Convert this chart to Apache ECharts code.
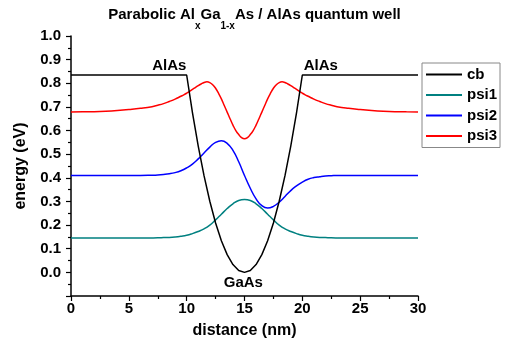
<!DOCTYPE html>
<html>
<head>
<meta charset="utf-8">
<script src="https://cdn.jsdelivr.net/npm/echarts@6/dist/echarts.min.js"></script>
<style>html,body{margin:0;padding:0;background:#fff;}#c{width:509px;height:348px;}</style>
</head>
<body>
<div id="c"></div>
<script>
var distance = [0,1,2,3,4,5,6,7,7.5,8,8.5,9,9.5,10,10.5,11,11.5,12,12.5,13,13.5,14,14.5,15,15.5,16,16.5,17,17.5,18,18.5,19,19.5,20,20.5,21,21.5,22,22.5,23,24,25,26,27,28,29,30];
var cb = [0.835,0.835,0.835,0.835,0.835,0.835,0.835,0.835,0.835,0.835,0.835,0.835,0.835,0.835,
  0.676,0.534,0.409,0.301,0.209,0.134,0.075,0.033,0.008,0,0.008,0.033,0.075,0.134,0.209,0.301,0.409,0.534,0.676,
  0.835,0.835,0.835,0.835,0.835,0.835,0.835,0.835,0.835,0.835,0.835,0.835,0.835,0.835];
var psi1 = [0.145,0.145,0.145,0.145,0.145,0.145,0.145,
  0.1455,0.146,0.147,0.148,0.150,0.153,0.157,0.164,0.173,0.184,0.200,0.222,0.246,0.270,0.290,0.304,
  0.308,
  0.304,0.290,0.270,0.246,0.222,0.200,0.184,0.173,0.164,0.157,0.153,0.150,0.148,0.147,0.146,0.1455,
  0.145,0.145,0.145,0.145,0.145,0.145,0.145];
var psi2 = [0.41,0.41,0.41,0.41,0.41,0.41,0.41,
  0.411,0.412,0.414,0.417,0.422,0.430,0.442,0.458,0.480,0.505,0.530,0.550,0.557,0.546,0.516,0.468,
  0.41,
  0.356,0.311,0.282,0.272,0.279,0.297,0.321,0.346,0.366,0.382,0.394,0.401,0.405,0.408,0.409,0.41,
  0.41,0.41,0.41,0.41,0.41,0.41,0.41];
var distance3 = [0,1,2,3,4,5,6,7,7.5,8,8.5,9,
  9.5,9.75,10,10.25,10.5,10.75,11,11.25,11.5,11.75,12,12.25,12.5,12.75,13,13.25,13.5,13.75,14,14.25,14.5,14.75,
  15,
  15.25,15.5,15.75,16,16.25,16.5,16.75,17,17.25,17.5,17.75,18,18.25,18.5,18.75,19,19.25,19.5,19.75,20,20.25,20.5,
  21,21.5,22,22.5,23,24,25,26,27,28,29,30];
var psi3 = [0.678,0.679,0.680,0.682,0.685,0.689,0.694,0.701,0.707,0.714,0.723,0.733,
  0.745,0.751,0.758,0.766,0.774,0.782,0.790,0.797,0.803,0.806,0.803,0.794,0.779,0.758,0.734,0.706,0.678,0.650,0.623,0.600,0.583,0.570,
  0.565,
  0.570,0.583,0.600,0.623,0.650,0.678,0.706,0.734,0.758,0.779,0.794,0.803,0.806,0.803,0.797,0.790,0.782,0.774,0.766,0.758,0.751,0.745,
  0.733,0.723,0.714,0.707,0.701,0.694,0.689,0.685,0.682,0.680,0.679,0.678];
var seriesNames = ['cb','psi1','psi2','psi3'];
var seriesColors = ['#000000','#008080','#0000ff','#ff0000'];
var labels = [
  {text:'AlAs', x:8.5, y:0.875},
  {text:'AlAs', x:21.6, y:0.875},
  {text:'GaAs', x:14.9, y:-0.043}
];

var chart = echarts.init(document.getElementById('c'), null, {renderer:'canvas'});
var FONT = 'Liberation Sans, Arial, sans-serif';
function pairs(xs, arr){ return xs.map(function(x,i){ return [x, arr[i]]; }); }
var allData = [pairs(distance, cb), pairs(distance, psi1), pairs(distance, psi2), pairs(distance3, psi3)];
var series = seriesNames.map(function(n, k){
  var s = {
    name: n, type: 'line', data: allData[k], symbol: 'none', showSymbol: false,
    smooth: k === 0 ? false : 0.5,
    lineStyle: {color: seriesColors[k], width: 1.5},
    itemStyle: {color: seriesColors[k]},
    z: k === 0 ? 3 : 2
  };
  if (k === 0) {
    s.markPoint = {
      symbol: 'circle', symbolSize: 0, silent: true,
      label: {show: true, position: 'inside', formatter: '{b}', color: '#000', fontWeight: 'bold', fontSize: 15, fontFamily: FONT},
      data: labels.map(function(l){ return {name: l.text, coord: [l.x, l.y]}; })
    };
  }
  return s;
});

chart.setOption({
  animation: false,
  backgroundColor: '#fff',
  title: {
    text: '{a|Parabolic Al}{s|x}{a|Ga}{s|1-x}{a|As / AlAs quantum well}',
    left: 'center', top: 2,
    textStyle: {
      rich: {
        a: {fontSize: 15, fontWeight: 'bold', fontFamily: FONT, color: '#000', verticalAlign: 'top', lineHeight: 18},
        s: {fontSize: 10, fontWeight: 'bold', fontFamily: FONT, color: '#000', verticalAlign: 'bottom', lineHeight: 24}
      }
    }
  },
  legend: {
    orient: 'vertical', left: 422, top: 63,
    data: seriesNames,
    icon: 'rect',
    itemWidth: 36, itemHeight: 2, itemGap: 3.5,
    padding: [3, 3, 3, 4],
    borderColor: '#888', borderWidth: 1,
    textStyle: {fontSize: 15, fontWeight: 'bold', fontFamily: FONT, color: '#000', lineHeight: 17}
  },
  grid: {left: 71, right: 91, top: 36, bottom: 52},
  xAxis: {
    type: 'value', min: 0, max: 30, interval: 5,
    name: 'distance (nm)', nameLocation: 'middle', nameGap: 27,
    nameTextStyle: {fontSize: 16, fontWeight: 'bold', fontFamily: FONT, color: '#000'},
    axisLine: {show: true, onZero: false, lineStyle: {color: '#000', width: 1.5}},
    axisTick: {show: true, inside: false, length: 5, lineStyle: {color: '#000', width: 1.2}},
    minorTick: {show: true, splitNumber: 2, length: 3, lineStyle: {color: '#000', width: 1.2}},
    axisLabel: {fontSize: 15, fontWeight: 'bold', fontFamily: FONT, color: '#000', margin: 5},
    splitLine: {show: false}
  },
  yAxis: {
    type: 'value', min: -0.1, max: 1.0, interval: 0.1,
    name: 'energy (eV)', nameLocation: 'middle', nameGap: 42,
    nameTextStyle: {fontSize: 16, fontWeight: 'bold', fontFamily: FONT, color: '#000'},
    axisLine: {show: true, onZero: false, lineStyle: {color: '#000', width: 1.5}},
    axisTick: {show: true, inside: false, length: 5, lineStyle: {color: '#000', width: 1.2}},
    minorTick: {show: true, splitNumber: 2, length: 3, lineStyle: {color: '#000', width: 1.2}},
    axisLabel: {
      fontSize: 15, fontWeight: 'bold', fontFamily: FONT, color: '#000', margin: 10,
      formatter: function(v){ return v < -0.01 ? '' : v.toFixed(1); }
    },
    splitLine: {show: false}
  },
  series: series
});
</script>
</body>
</html>
